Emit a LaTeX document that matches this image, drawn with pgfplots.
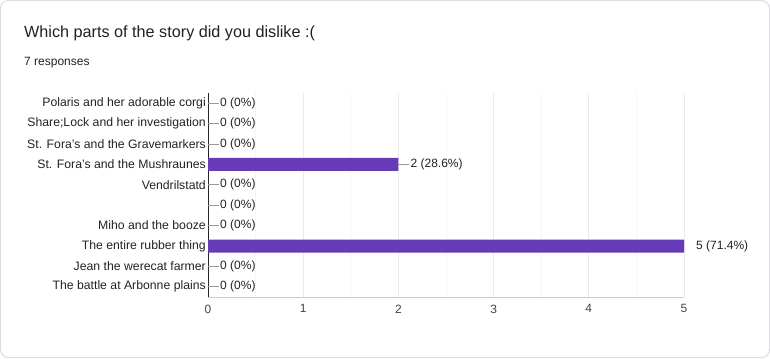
\documentclass[border=0pt]{standalone}
\usepackage{fontspec}
\setmainfont{Liberation Sans}
\usepackage{pgfplots}
\pgfplotsset{compat=1.18}
\definecolor{barcol}{HTML}{673AB7}
\definecolor{framecol}{HTML}{DADCE0}
\definecolor{titlecol}{HTML}{202124}
\definecolor{gridmaj}{HTML}{EBEBEB}
\definecolor{gridmin}{HTML}{F5F5F5}
\definecolor{botline}{HTML}{CCCCCC}
\definecolor{ticktext}{HTML}{444444}
\definecolor{labtext}{HTML}{222222}
\definecolor{leader}{HTML}{999999}
\pgfplotstableread[col sep=comma]{
x,y,label
0,0,{0 (0\%)}
0,1,{0 (0\%)}
5,2,{5 (71.4\%)}
0,3,{0 (0\%)}
0,4,{0 (0\%)}
0,5,{0 (0\%)}
2,6,{2 (28.6\%)}
0,7,{0 (0\%)}
0,8,{0 (0\%)}
0,9,{0 (0\%)}
}\datatable
\begin{document}
\begin{tikzpicture}[x=1bp,y=1bp]
\draw[line width=1bp, draw=framecol, rounded corners=8bp] (0.5,0.5) rectangle (769.5,357.5);
\node[anchor=base west, inner sep=0pt, font=\fontsize{16.2bp}{19bp}\selectfont, text=titlecol] at (24,320.5) {Which parts of the story did you dislike :(};
\node[anchor=base west, inner sep=0pt, font=\fontsize{12bp}{14bp}\selectfont, text=titlecol] at (24,293) {7 responses};
\begin{axis}[
  at={(208bp,61bp)}, anchor=south west,
  scale only axis, width=476bp, height=204bp,
  xmin=0, xmax=5, ymin=-0.5, ymax=9.5,
  xtick={0,1,2,3,4,5}, minor x tick num=1,
  xmajorgrids, xminorgrids,
  major grid style={draw=gridmaj, line width=1bp},
  minor grid style={draw=gridmin, line width=1bp},
  ytick={0,1,2,3,4,5,6,7,8,9},
  yticklabels={The battle at Arbonne plains, Jean the werecat farmer, The entire rubber thing, Miho and the booze, {}, Vendrilstatd, St. Fora's and the Mushraunes, St. Fora's and the Gravemarkers, Share;Lock and her investigation, Polaris and her adorable corgi},
  axis x line*=bottom, axis y line*=left,
  x axis line style={draw=botline, line width=1bp},
  y axis line style={draw=labtext, line width=1bp},
  major tick length=0pt, minor tick length=0pt,
  tick label style={font=\fontsize{12bp}{14bp}\selectfont},
  xticklabel style={text=ticktext, inner sep=0pt, anchor=north, yshift=-7.5bp},
  yticklabel style={text=labtext, inner sep=0pt, anchor=east, xshift=-2bp, font=\fontsize{12.25bp}{14bp}\selectfont},
  /pgf/number format/assume math mode=true,
  clip mode=individual,
  xbar, bar width=13bp, bar shift=0pt,
]
\addplot[
  draw=none, fill=barcol,
  error bars/.cd, x dir=plus, x fixed=0.115,
  error mark=none,
  error bar style={draw=leader, line width=1bp},
] 
  table[x=x, y=y, meta=label] {\datatable};
\addplot[
  draw=none, fill=none, forget plot,
  point meta=explicit symbolic,
  nodes near coords,
  every node near coord/.append style={anchor=west, inner sep=0pt, xshift=12bp, font=\fontsize{12bp}{14bp}\selectfont, text=labtext},
] table[x=x, y=y, meta=label] {\datatable};
\end{axis}
\end{tikzpicture}
\end{document}
